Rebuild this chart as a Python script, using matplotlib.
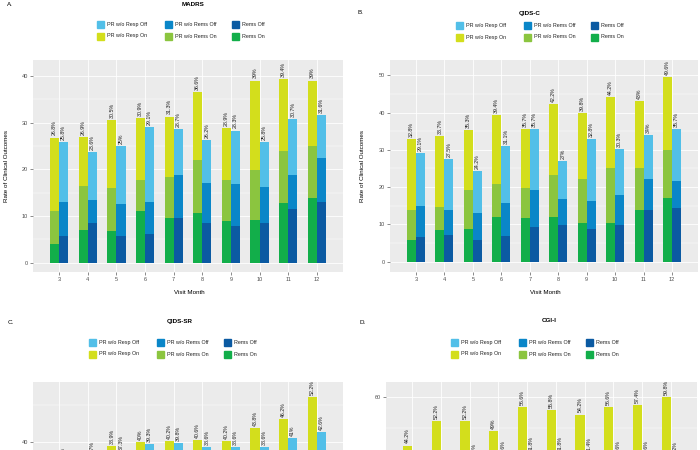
import matplotlib.pyplot as plt
import numpy as np
from matplotlib.patches import Rectangle
from matplotlib.ticker import MultipleLocator

plt.rcParams["font.family"] = ["Liberation Sans", "DejaVu Sans"]

months = [3, 4, 5, 6, 7, 8, 9, 10, 11, 12]

# cumulative rates (%): Rems <= Rems + PR w/o Rems <= Rems + PR w/o Rems + PR w/o Resp
madrs_rems_on = [3.9, 7.1, 6.8, 11.1, 9.6, 10.7, 8.9, 9.1, 12.7, 13.9]
madrs_prrems_on = [11.1, 16.4, 15.9, 17.7, 18.4, 22.0, 17.7, 19.9, 23.9, 24.9]
madrs_prresp_on = [26.8, 26.9, 30.5, 30.9, 31.3, 36.6, 28.9, 39.0, 39.4, 39.0]
madrs_rems_off = [5.7, 8.6, 5.7, 6.1, 9.5, 8.4, 7.9, 8.4, 11.4, 12.9]
madrs_prrems_off = [13.1, 13.4, 12.6, 13.1, 18.7, 17.0, 16.8, 16.3, 18.8, 22.5]
madrs_prresp_off = [25.8, 23.6, 25.0, 29.1, 28.7, 26.2, 28.3, 25.8, 30.7, 31.6]

qidsc_rems_on = [5.8, 8.4, 8.9, 12.1, 11.6, 12.1, 10.3, 10.3, 14.0, 17.0]
qidsc_prrems_on = [13.9, 14.6, 19.3, 20.9, 19.9, 23.2, 22.3, 25.2, 25.2, 29.9]
qidsc_prresp_on = [32.8, 33.7, 35.3, 39.4, 35.7, 42.2, 39.8, 44.2, 43.0, 49.6]
qidsc_rems_off = [6.6, 7.2, 5.8, 6.9, 9.4, 9.8, 8.9, 9.8, 14.0, 14.3]
qidsc_prrems_off = [15.0, 13.9, 13.0, 15.8, 19.1, 16.7, 16.3, 17.9, 22.1, 21.6]
qidsc_prresp_off = [29.1, 27.5, 24.2, 31.1, 35.7, 27.0, 32.8, 30.3, 34.0, 35.7]

# lower panels are cut off in the source; inner levels are rough estimates
qidssr_rems_on = [10.5, 12.0, 13.5, 14.5, 15.0, 15.5, 16.0, 17.5, 18.5, 21.0]
qidssr_prrems_on = [20.0, 22.0, 24.5, 26.0, 26.5, 27.0, 27.5, 29.5, 31.0, 35.0]
qidssr_prresp_on = [31.5, 33.5, 38.9, 40.0, 40.2, 40.6, 40.2, 43.8, 46.2, 52.2]
qidssr_rems_off = [9.5, 10.5, 11.0, 12.5, 13.0, 12.5, 12.5, 12.5, 14.5, 15.5]
qidssr_prrems_off = [19.0, 20.5, 21.5, 23.5, 24.0, 23.5, 23.5, 23.5, 25.5, 27.0]
qidssr_prresp_off = [33.9, 35.7, 37.3, 39.3, 39.8, 38.6, 38.6, 38.6, 41.0, 42.6]

cgi_rems_on = [12.0, 15.0, 15.5, 15.0, 18.0, 18.5, 18.0, 19.0, 20.0, 22.0]
cgi_prrems_on = [26.0, 31.0, 31.5, 30.0, 34.5, 34.0, 33.5, 35.0, 36.0, 38.5]
cgi_prresp_on = [44.2, 52.2, 52.2, 49.0, 56.6, 55.8, 54.2, 56.6, 57.4, 59.8]
cgi_rems_off = [10.0, 10.0, 11.0, 11.5, 12.0, 12.5, 12.0, 12.0, 12.5, 12.5]
cgi_prrems_off = [21.0, 20.5, 22.5, 23.5, 24.0, 24.5, 24.0, 23.5, 24.0, 23.5]
cgi_prresp_off = [37.2, 36.0, 39.4, 40.6, 41.8, 41.8, 41.4, 40.6, 40.6, 40.2]

legend_labels = [["PR w/o Resp Off", "PR w/o Rems Off", "Rems Off"],
                 ["PR w/o Resp On", "PR w/o Rems On", "Rems On"]]
off_colors = ["#52BFE8", "#0A86C8", "#0B5AA2"]
on_colors = ["#D3DE1C", "#8BC53F", "#12AE4A"]

W, H = 700, 450
fig = plt.figure(figsize=(7, 4.5), dpi=100)


def fx(px):
    return px / W


def fy(px):
    return 1 - px / H


def panel(left, top, right, bottom, ylim, major, on, off):
    ax = fig.add_axes([fx(left), fy(bottom), fx(right - left), (bottom - top) / H])
    ax.set_facecolor("#EBEBEB")
    x = np.array(months)
    w = 0.32
    # overlapping cumulative bars look like a stack
    for vals, col in zip(on, on_colors):
        ax.bar(x - w / 2, vals, w, color=col, zorder=2)
    for vals, col in zip(off, off_colors):
        ax.bar(x + w / 2, vals, w, color=col, zorder=2)
    for xs, tops in [(x - w / 2, on[0]), (x + w / 2, off[0])]:
        for xi, v in zip(xs, tops):
            ax.annotate(f"{v:g}%", (xi, v), xytext=(0, 1.5), textcoords="offset points",
                        rotation=90, ha="center", va="bottom", fontsize=3.8, color="#222222")
    ax.set_xlim(2.09, 12.91)
    ax.set_ylim(*ylim)
    ax.set_xticks(months)
    ax.yaxis.set_major_locator(MultipleLocator(major))
    ax.yaxis.set_minor_locator(MultipleLocator(major / 2))
    ax.grid(which="major", color="white", lw=0.6, zorder=0)
    ax.grid(which="minor", axis="y", color="white", lw=0.3, zorder=0)
    ax.set_axisbelow(True)
    ax.tick_params(which="major", length=2, width=0.4, color="#333333",
                   labelsize=4, labelcolor="#4D4D4D", pad=1.5)
    ax.tick_params(which="minor", length=0)
    for s in ax.spines.values():
        s.set_visible(False)
    return ax


def legend(x0, y0):
    colx = [0, 68, 135]
    rowy = [0, 11.5]
    for r, (labels, cols) in enumerate(zip(legend_labels, [off_colors, on_colors])):
        for c, (lab, col) in enumerate(zip(labels, cols)):
            lx = x0 + colx[c]
            ly = y0 + rowy[r]
            fig.add_artist(Rectangle((fx(lx), fy(ly + 7)), fx(7), 7 / H, color=col,
                                     transform=fig.transFigure))
            fig.text(fx(lx + 10), fy(ly + 3.5), lab, fontsize=3.9, va="center",
                     ha="left", color="#222222")


def labels(letter, lx, ly, title, tx, ty, ylab_x, ylab_y, xlab_x, xlab_y):
    fig.text(fx(lx), fy(ly), letter, fontsize=4.5, va="center", ha="left")
    fig.text(fx(tx), fy(ty), title, fontsize=4.5, fontweight="bold", va="center", ha="center")
    fig.text(fx(ylab_x), fy(ylab_y), "Rate of Clinical Outcomes", fontsize=4.5,
             rotation=90, va="center", ha="center")
    fig.text(fx(xlab_x), fy(xlab_y), "Visit Month", fontsize=4.5, va="center", ha="center")


# A. MADRS
panel(33, 60, 343, 271.7, (-1.93, 43.4), 10,
      [madrs_prresp_on, madrs_prrems_on, madrs_rems_on],
      [madrs_prresp_off, madrs_prrems_off, madrs_rems_off])
legend(97, 21)
labels("A.", 7, 5, "MADRS", 193, 5, 7, 166, 189, 292)

# B. QIDS-C
panel(390, 60, 698, 271.7, (-2.68, 54.1), 10,
      [qidsc_prresp_on, qidsc_prrems_on, qidsc_rems_on],
      [qidsc_prresp_off, qidsc_prrems_off, qidsc_rems_off])
legend(456, 22)
labels("B.", 357, 13, "QIDS-C", 530, 13, 362, 166, 545, 292)

# C. QIDS-SR
panel(33, 381.7, 343, 593.4, (-1.07, 56.3), 20,
      [qidssr_prresp_on, qidssr_prrems_on, qidssr_rems_on],
      [qidssr_prresp_off, qidssr_prrems_off, qidssr_rems_off])
legend(89, 339)
labels("C.", 8, 322, "QIDS-SR", 180, 321, 5, 487, 189, 610)

# D. CGI-I
panel(386, 381.7, 697, 593.4, (-3.5, 64.8), 20,
      [cgi_prresp_on, cgi_prrems_on, cgi_rems_on],
      [cgi_prresp_off, cgi_prrems_off, cgi_rems_off])
legend(451, 339)
labels("D.", 360, 322, "CGI-I", 549, 321, 362, 487, 545, 610)

fig.savefig("out.png", dpi=100)
plt.close(fig)
